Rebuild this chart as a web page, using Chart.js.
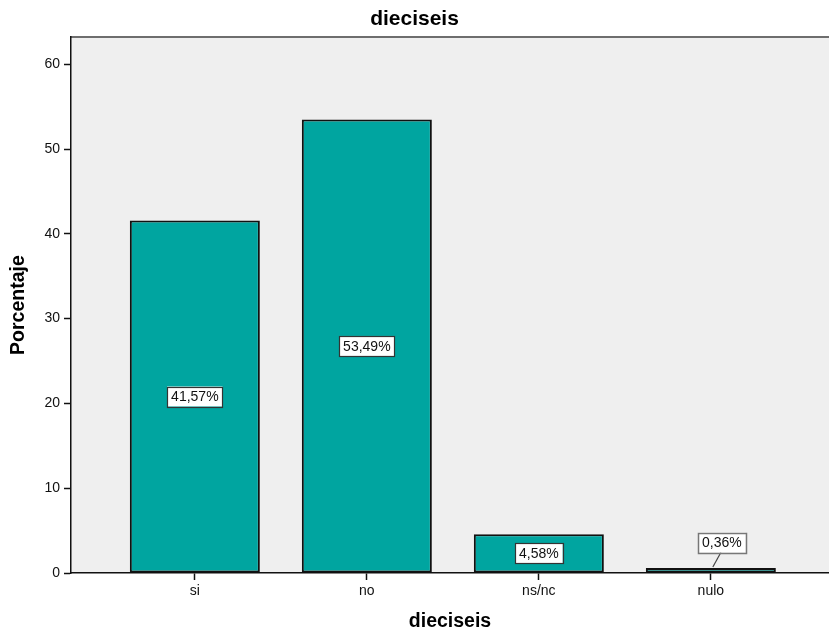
<!DOCTYPE html>
<html>
<head>
<meta charset="utf-8">
<script src="https://cdn.jsdelivr.net/npm/chart.js@4.4.0/dist/chart.umd.min.js"></script>
<style>
  html, body { margin: 0; padding: 0; background: #fff; }
  #wrap { width: 829px; height: 629px; }
</style>
</head>
<body>
<div id="wrap"><canvas id="chart"></canvas></div>
<script>
// Data
const categories = ["si", "no", "ns/nc", "nulo"];
const percentages = [41.57, 53.49, 4.58, 0.36];
const percentLabels = ["41,57%", "53,49%", "4,58%", "0,36%"];
const yTicks = [0, 10, 20, 30, 40, 50, 60];

const FONT = "'Liberation Sans', Arial, sans-serif";

// Plot background + top border
const plotBg = {
    id: "plotBg",
    beforeDraw(chart) {
        const { ctx, chartArea: a } = chart;
        ctx.save();
        ctx.fillStyle = "#efefef";
        ctx.fillRect(a.left, a.top, a.right - a.left, a.bottom - a.top);
        ctx.strokeStyle = "#6e6e6e";
        ctx.lineWidth = 2;
        ctx.beginPath();
        ctx.moveTo(a.left, a.top);
        ctx.lineTo(a.right, a.top);
        ctx.stroke();
        ctx.restore();
    }
};

// Boxed value labels in the middle of each bar
const boxLabels = {
    id: "boxLabels",
    afterDatasetsDraw(chart) {
        const { ctx } = chart;
        const meta = chart.getDatasetMeta(0);
        ctx.save();
        ctx.font = "14px " + FONT;
        ctx.textAlign = "center";
        ctx.textBaseline = "middle";
        meta.data.forEach((bar, i) => {
            const text = percentLabels[i];
            const w = ctx.measureText(text).width + 8;
            const h = 20;
            let cx = bar.x;
            let cy = (bar.y + bar.base) / 2;
            const small = Math.abs(bar.base - bar.y) < h + 4;
            if (small) {
                cx = bar.x + 11;
                cy = bar.base - 30;
                ctx.strokeStyle = "#444";
                ctx.lineWidth = 1.2;
                ctx.beginPath();
                ctx.moveTo(cx - 1, cy + h / 2);
                ctx.lineTo(bar.x + 2, bar.y - 1);
                ctx.stroke();
            }
            ctx.fillStyle = "#fff";
            ctx.fillRect(cx - w / 2, cy - h / 2, w, h);
            ctx.strokeStyle = small ? "#777" : "#333";
            ctx.lineWidth = small ? 1.5 : 1.2;
            ctx.strokeRect(Math.round(cx - w / 2) + 0.5, Math.round(cy - h / 2) + 0.5, Math.round(w), h);
            ctx.fillStyle = "#111";
            ctx.fillText(text, cx, cy + 1);
        });
        ctx.restore();
    }
};

const ctx = document.getElementById("chart").getContext("2d");

new Chart(ctx, {
    type: "bar",
    data: {
        datasets: [{
            label: "Porcentaje",
            data: percentages.map((v, i) => ({ x: i, y: v })),
            backgroundColor: "#00a5a0",
            borderColor: "#111",
            borderWidth: 2,
            borderSkipped: false,
            minBarLength: 5,
            barPercentage: 0.756,
            categoryPercentage: 1
        }]
    },
    options: {
        responsive: true,
        maintainAspectRatio: false,
        animation: false,
        layout: { padding: 0 },
        plugins: {
            legend: { display: false },
            tooltip: { enabled: false },
            title: {
                display: true,
                text: "dieciseis",
                color: "#000",
                font: { family: FONT, size: 21, weight: "bold", lineHeight: 1.1 },
                padding: { top: 8, bottom: 6 }
            }
        },
        scales: {
            x: {
                type: "linear",
                offset: false,
                min: -0.72,
                max: 3.687,
                afterBuildTicks(scale) {
                    scale.ticks = categories.map((c, i) => ({ value: i }));
                },
                afterFit(scale) { scale.height = 56; },
                ticks: {
                    color: "#111",
                    font: { family: FONT, size: 14 },
                    padding: 3,
                    callback: (v) => categories[v]
                },
                grid: { offset: false, drawOnChartArea: false, color: "#111", tickLength: 7, tickWidth: 1.5 },
                border: { color: "#111", width: 1.5 },
                title: {
                    display: true,
                    text: "dieciseis",
                    color: "#000",
                    font: { family: FONT, size: 19.5, weight: "bold", lineHeight: 0.8 },
                    padding: { top: 0, bottom: 0 }
                }
            },
            y: {
                min: 0,
                max: 63.2,
                afterBuildTicks(scale) {
                    scale.ticks = yTicks.map(v => ({ value: v }));
                },
                afterFit(scale) { scale.width = 71; },
                ticks: {
                    color: "#111",
                    font: { family: FONT, size: 14 },
                    padding: 4
                },
                grid: { drawOnChartArea: false, color: "#111", tickLength: 7, tickWidth: 1.5 },
                border: { color: "#111", width: 1.5 },
                title: {
                    display: true,
                    text: "Porcentaje",
                    color: "#000",
                    font: { family: FONT, size: 19.5, weight: "bold", lineHeight: 1.2 },
                    padding: { top: 7, bottom: 0 }
                }
            }
        }
    },
    plugins: [plotBg, boxLabels]
});
</script>
</body>
</html>
